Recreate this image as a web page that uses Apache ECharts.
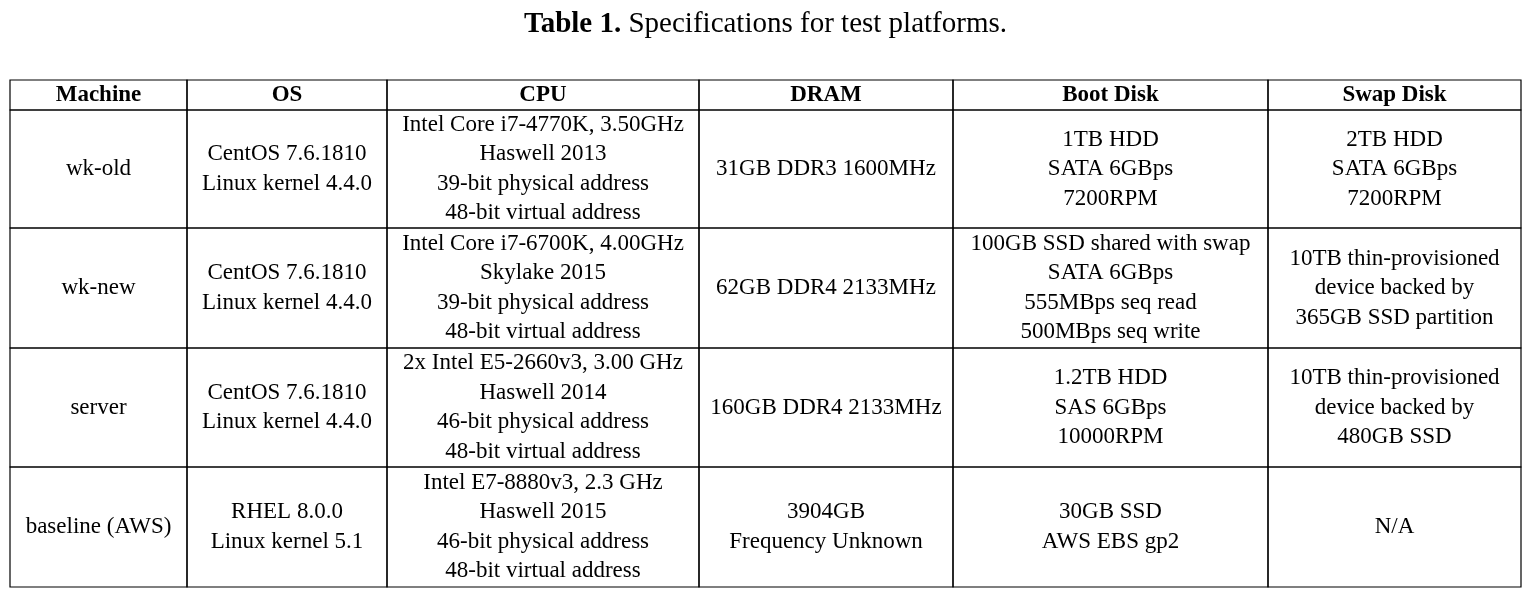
<!DOCTYPE html>
<html><head><meta charset="utf-8">
<script src="https://cdn.jsdelivr.net/npm/echarts@6/dist/echarts.min.js"></script>
<style>html,body{margin:0;background:#fff}#chart{width:1531px;height:594px}</style>
</head><body><div id="chart"></div>
<script>
// table contents
var headers = ['Machine', 'OS', 'CPU', 'DRAM', 'Boot Disk', 'Swap Disk'];
var machines = ['wk-old', 'wk-new', 'server', 'baseline (AWS)'];
var osList = ['CentOS 7.6.1810\nLinux kernel 4.4.0', 'CentOS 7.6.1810\nLinux kernel 4.4.0', 'CentOS 7.6.1810\nLinux kernel 4.4.0', 'RHEL 8.0.0\nLinux kernel 5.1'];
var cpus = [
    'Intel Core i7-4770K, 3.50GHz\nHaswell 2013\n39-bit physical address\n48-bit virtual address',
    'Intel Core i7-6700K, 4.00GHz\nSkylake 2015\n39-bit physical address\n48-bit virtual address',
    '2x Intel E5-2660v3, 3.00 GHz\nHaswell 2014\n46-bit physical address\n48-bit virtual address',
    'Intel E7-8880v3, 2.3 GHz\nHaswell 2015\n46-bit physical address\n48-bit virtual address'
];
var drams = ['31GB DDR3 1600MHz', '62GB DDR4 2133MHz', '160GB DDR4 2133MHz', '3904GB\nFrequency Unknown'];
var bootDisks = ['1TB HDD\nSATA 6GBps\n7200RPM', '100GB SSD shared with swap\nSATA 6GBps\n555MBps seq read\n500MBps seq write', '1.2TB HDD\nSAS 6GBps\n10000RPM', '30GB SSD\nAWS EBS gp2'];
var swapDisks = ['2TB HDD\nSATA 6GBps\n7200RPM', '10TB thin-provisioned\ndevice backed by\n365GB SSD partition', '10TB thin-provisioned\ndevice backed by\n480GB SSD', 'N/A'];

// layout: column and row edges in table units
var colEdges = [0, 177, 377, 689, 943, 1258, 1511];
var rowEdges = [0, 30, 148, 268, 387, 507];

var columns = [machines, osList, cpus, drams, bootDisks, swapDisks];
var cells = [];
headers.forEach(function (h, c) { cells.push([c, 0, h, 1]); });
machines.forEach(function (m, r) {
    columns.forEach(function (col, c) { cells.push([c, r + 1, col[r], 0]); });
});

var myChart = echarts.init(document.getElementById('chart'));
var option = {
    animation: false,
    title: {
        text: '{b|Table 1.} Specifications for test platforms.',
        left: 'center',
        top: 5,
        textStyle: {
            fontFamily: 'Liberation Serif',
            fontSize: 29,
            fontWeight: 'normal',
            color: '#000',
            rich: { b: { fontFamily: 'Liberation Serif', fontSize: 29, fontWeight: 'bold', color: '#000' } }
        }
    },
    grid: { left: 10, right: 10, top: 80, bottom: 7 },
    xAxis: { type: 'value', min: 0, max: 1511, show: false },
    yAxis: { type: 'value', min: 0, max: 507, inverse: true, show: false },
    series: [{
        type: 'custom',
        data: cells,
        renderItem: function (params, api) {
            var c = api.value(0), r = api.value(1);
            var d = cells[params.dataIndex];
            var p0 = api.coord([colEdges[c], rowEdges[r]]);
            var p1 = api.coord([colEdges[c + 1], rowEdges[r + 1]]);
            return {
                type: 'group',
                children: [{
                    type: 'rect',
                    shape: { x: p0[0], y: p0[1], width: p1[0] - p0[0], height: p1[1] - p0[1] },
                    style: { fill: 'none', stroke: '#000', lineWidth: 1.2 }
                }, {
                    type: 'text',
                    x: (p0[0] + p1[0]) / 2,
                    y: (p0[1] + p1[1]) / 2,
                    style: {
                        text: d[2],
                        align: 'center',
                        verticalAlign: 'middle',
                        fontFamily: 'Liberation Serif',
                        fontSize: 23,
                        lineHeight: 29.5,
                        fontWeight: d[3] ? 'bold' : 'normal',
                        fill: '#000'
                    }
                }]
            };
        }
    }]
};
myChart.setOption(option);
</script>
</body></html>
